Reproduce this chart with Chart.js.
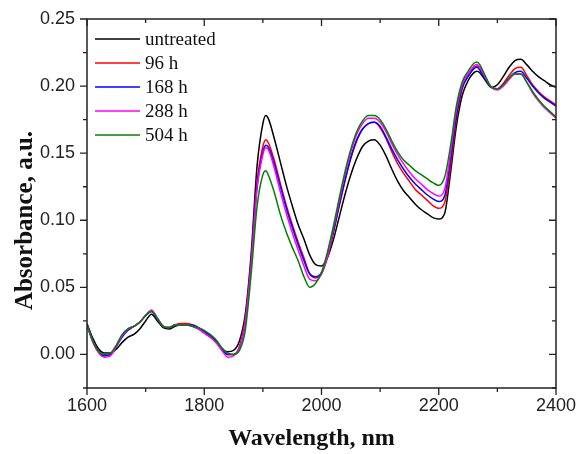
<!DOCTYPE html>
<html><head><meta charset="utf-8">
<script src="https://cdn.jsdelivr.net/npm/chart.js@4.4.1/dist/chart.umd.min.js"></script>
<style>html,body{margin:0;padding:0;background:#fff}#wrap{width:579px;height:454px}</style>
</head><body><div id="wrap"><canvas id="c" width="579" height="454"></canvas></div>
<script>
const wavelengths = [1600,1610,1620,1630,1640,1650,1660,1670,1680,1690,1700,1710,1720,1730,1740,1750,1760,1770,1780,1790,1800,1810,1820,1830,1840,1850,1860,1870,1880,1890,1900,1905,1910,1920,1930,1940,1950,1960,1970,1980,1990,2000,2010,2020,2030,2040,2050,2060,2070,2080,2090,2100,2110,2120,2130,2140,2150,2160,2170,2180,2190,2200,2210,2220,2230,2240,2250,2260,2265,2270,2280,2290,2300,2310,2320,2330,2340,2350,2360,2370,2380,2390,2400];

const untreated = [0.023,0.012,0.004,0.001,0.001,0.004,0.009,0.013,0.015,0.019,0.025,0.030,0.025,0.020,0.019,0.021,0.022,0.022,0.021,0.019,0.016,0.013,0.009,0.004,0.002,0.003,0.010,0.030,0.075,0.140,0.172,0.178,0.175,0.160,0.143,0.126,0.111,0.097,0.086,0.074,0.067,0.066,0.072,0.085,0.102,0.119,0.134,0.146,0.155,0.159,0.160,0.156,0.148,0.138,0.129,0.122,0.117,0.112,0.108,0.105,0.102,0.101,0.105,0.135,0.170,0.193,0.204,0.210,0.211,0.210,0.204,0.199,0.201,0.207,0.214,0.219,0.220,0.216,0.211,0.207,0.204,0.201,0.199];

const h96 = [0.022,0.010,0.002,-0.001,0.000,0.006,0.014,0.019,0.021,0.024,0.029,0.033,0.027,0.021,0.020,0.022,0.023,0.023,0.022,0.020,0.017,0.014,0.010,0.004,0.000,0.000,0.006,0.026,0.070,0.128,0.155,0.160,0.157,0.144,0.127,0.111,0.097,0.084,0.072,0.060,0.057,0.060,0.072,0.090,0.110,0.129,0.146,0.159,0.168,0.172,0.173,0.169,0.161,0.151,0.142,0.135,0.129,0.123,0.119,0.115,0.111,0.109,0.113,0.140,0.175,0.198,0.208,0.214,0.215,0.214,0.206,0.199,0.198,0.202,0.208,0.213,0.214,0.208,0.201,0.196,0.192,0.189,0.186];

const h168 = [0.022,0.010,0.002,-0.001,0.000,0.006,0.013,0.018,0.021,0.024,0.029,0.032,0.026,0.021,0.020,0.022,0.022,0.022,0.022,0.020,0.017,0.014,0.010,0.004,0.000,0.000,0.005,0.024,0.068,0.125,0.151,0.156,0.154,0.141,0.125,0.109,0.095,0.082,0.070,0.060,0.058,0.061,0.073,0.091,0.111,0.130,0.147,0.160,0.168,0.172,0.173,0.170,0.162,0.153,0.145,0.138,0.132,0.127,0.123,0.119,0.116,0.114,0.118,0.145,0.178,0.199,0.207,0.213,0.214,0.212,0.205,0.199,0.198,0.201,0.206,0.210,0.211,0.206,0.200,0.195,0.191,0.188,0.185];

const h288 = [0.022,0.009,0.001,-0.002,-0.001,0.006,0.014,0.019,0.021,0.024,0.029,0.033,0.027,0.021,0.020,0.022,0.022,0.022,0.021,0.019,0.016,0.013,0.009,0.003,-0.002,-0.001,0.005,0.024,0.067,0.123,0.149,0.154,0.152,0.138,0.121,0.105,0.091,0.078,0.066,0.056,0.055,0.060,0.073,0.093,0.114,0.134,0.151,0.164,0.172,0.176,0.176,0.173,0.166,0.157,0.149,0.142,0.136,0.131,0.127,0.123,0.120,0.118,0.123,0.150,0.182,0.201,0.209,0.215,0.216,0.214,0.206,0.199,0.197,0.200,0.205,0.209,0.209,0.203,0.195,0.189,0.184,0.180,0.176];

const h504 = [0.022,0.010,0.002,0.000,0.001,0.007,0.015,0.019,0.021,0.024,0.029,0.032,0.027,0.021,0.020,0.022,0.022,0.022,0.021,0.020,0.018,0.015,0.011,0.005,0.001,0.000,0.003,0.018,0.060,0.110,0.134,0.137,0.133,0.120,0.104,0.091,0.080,0.070,0.058,0.050,0.053,0.061,0.076,0.095,0.116,0.136,0.153,0.166,0.174,0.178,0.178,0.175,0.168,0.159,0.151,0.145,0.141,0.137,0.134,0.131,0.128,0.126,0.132,0.155,0.185,0.203,0.211,0.217,0.218,0.216,0.207,0.199,0.198,0.201,0.206,0.209,0.209,0.203,0.196,0.190,0.185,0.181,0.177];

const seriesLabels = ['untreated','96 h','168 h','288 h','504 h'];
const seriesValues = [untreated, h96, h168, h288, h504];
const seriesColors = ['#000000','#ff0000','#0000ff','#ff00ff','#008000'];

const xMajorTicks = [1600,1800,2000,2200,2400];
const xMinorTicks = [1700,1900,2100,2300];
const yMajorTicks = [0,0.05,0.10,0.15,0.20,0.25];
const yMinorTicks = [-0.025,0.025,0.075,0.125,0.175,0.225];

const xTitle = 'Wavelength, nm';
const yTitle = 'Absorbance, a.u.';

const axisColor = '#222';

const framePlugin = {
  id: 'frame',
  afterDatasetsDraw(chart) {
    const {ctx, chartArea: a, scales: {x, y}} = chart;
    ctx.save();
    ctx.strokeStyle = axisColor;
    ctx.lineWidth = 1.5;
    ctx.strokeRect(a.left, a.top, a.right - a.left, a.bottom - a.top);
    ctx.lineWidth = 1.3;
    ctx.beginPath();
    const tick = (vals, len) => {
      vals.forEach(v => {
        const px = x.getPixelForValue(v);
        ctx.moveTo(px, a.bottom); ctx.lineTo(px, a.bottom + len);
        ctx.moveTo(px, a.top); ctx.lineTo(px, a.top + len);
      });
    };
    tick(xMajorTicks, 7);
    tick(xMinorTicks, 4);
    const ytick = (vals, len) => {
      vals.forEach(v => {
        const py = y.getPixelForValue(v);
        ctx.moveTo(a.left, py); ctx.lineTo(a.left - len, py);
        ctx.moveTo(a.right, py); ctx.lineTo(a.right - len, py);
      });
    };
    ytick(yMajorTicks, 7);
    ytick(yMinorTicks, 4);
    ctx.stroke();

    // legend
    ctx.font = '19px "Liberation Serif", "Times New Roman", serif';
    ctx.textBaseline = 'middle';
    ctx.textAlign = 'left';
    const lx = a.left + 8, ly = a.top + 20, step = 24;
    seriesLabels.forEach((lab, i) => {
      const yy = ly + i * step;
      ctx.strokeStyle = seriesColors[i];
      ctx.lineWidth = 1.5;
      ctx.beginPath();
      ctx.moveTo(lx, yy); ctx.lineTo(lx + 45, yy);
      ctx.stroke();
      ctx.fillStyle = '#111';
      ctx.fillText(lab, lx + 50, yy + 1);
    });

    // axis titles
    ctx.fillStyle = '#111';
    ctx.textAlign = 'center';
    ctx.textBaseline = 'alphabetic';
    ctx.font = 'bold 24px "Liberation Serif", "Times New Roman", serif';
    ctx.fillText(xTitle, (a.left + a.right) / 2 - 10, 445);
    ctx.translate(32, (a.top + a.bottom) / 2 + 17);
    ctx.rotate(-Math.PI / 2);
    ctx.font = 'bold 25px "Liberation Serif", "Times New Roman", serif';
    ctx.fillText(yTitle, 0, 0);
    ctx.restore();
  }
};

const datasets = seriesLabels.map((lab, i) => ({
  label: lab,
  data: wavelengths.map((w, j) => ({x: w, y: seriesValues[i][j]})),
  borderColor: seriesColors[i],
  borderWidth: 1.5,
  pointRadius: 0,
  fill: false,
  cubicInterpolationMode: 'monotone',
  order: seriesLabels.length - i
}));

const chart = new Chart(document.getElementById('c'), {
  type: 'line',
  data: {datasets},
  options: {
    responsive: false,
    devicePixelRatio: 1,
    animation: false,
    layout: {padding: {top: 19, right: 23, left: 0, bottom: 0}},
    plugins: {legend: {display: false}, tooltip: {enabled: false}},
    scales: {
      x: {
        type: 'linear', min: 1600, max: 2400,
        afterBuildTicks: s => { s.ticks = xMajorTicks.map(v => ({value: v})); },
        afterFit: s => { s.height = 66; s.paddingLeft = 0; s.paddingRight = 0; },
        grid: {drawOnChartArea: false, drawTicks: false},
        border: {display: false},
        ticks: {font: {family: '"Liberation Sans", Arial, sans-serif', size: 18}, color: '#222', padding: 7, maxRotation: 0,
          callback: v => String(v)},
        title: {display: false}
      },
      y: {
        type: 'linear', min: -0.025, max: 0.25,
        afterBuildTicks: s => { s.ticks = yMajorTicks.map(v => ({value: v})); },
        afterFit: s => { s.width = 87; s.paddingTop = 0; s.paddingBottom = 0; },
        grid: {drawOnChartArea: false, drawTicks: false},
        border: {display: false},
        ticks: {font: {family: '"Liberation Sans", Arial, sans-serif', size: 18}, color: '#222', padding: 12,
          callback: v => v.toFixed(2)},
        title: {display: false}
      }
    }
  },
  plugins: [framePlugin]
});
</script></body></html>
